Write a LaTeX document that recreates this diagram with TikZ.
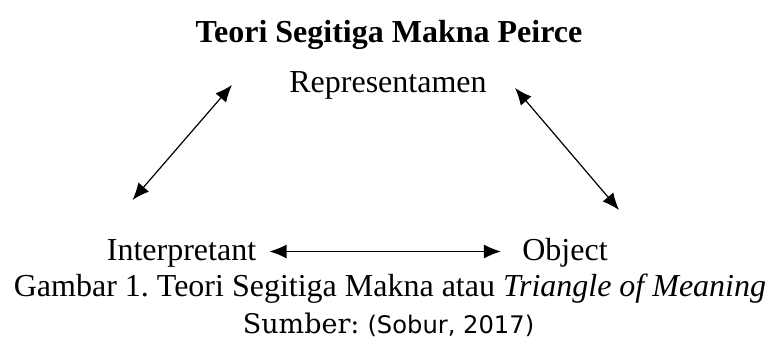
\documentclass[tikz,border=0pt]{standalone}
\usepackage{fontspec}
\setmainfont{Liberation Serif}
\newfontfamily\srcfont{DejaVu Sans}
\newfontfamily\srclabelfont{DejaVu Serif}
\usepackage{tikz}
\usetikzlibrary{arrows.meta,positioning}
\frenchspacing
\tikzstyle{dblarrow} = [line width=0.6pt,{Latex[length=8.5pt,width=7pt]}-{Latex[length=8.5pt,width=7pt]}]
\tikzstyle{label} = [inner sep=0pt, anchor=base, font=\fontsize{16}{19}\selectfont]

\begin{document}
\begin{tikzpicture}[x=0.5pt,y=-0.5pt]
\useasboundingbox (0,0) rectangle (769,340);
% Title and corners
\node[label, font=\fontsize{16}{19}\selectfont\bfseries] (title) at (389,43) {Teori Segitiga Makna Peirce};
\node[label] (repr) at (388,93) {Representamen};
\node[label] (interp) at (181.5,261) {Interpretant};
\node[label] (obj) at (565,261) {Object};

% Caption
\node[label] (cap) at (390,297) {Gambar 1. Teori Segitiga Makna atau \textit{Triangle of Meaning}};
\node[label] (src) at (388.5,334) {{\srclabelfont\fontsize{13.5}{16}\selectfont Sumber:} {\srcfont\fontsize{12.1}{14}\selectfont(Sobur, 2017)}};

% Arrows
\draw[dblarrow] ([shift={(-49,-61)}]interp.base) -- ([shift={(-57,-8)}]repr.base west);
\draw[dblarrow] ([shift={(28,-5)}]repr.base east) -- ([shift={(11,-51)}]obj.base east);
\draw[dblarrow] ([shift={(13,-9.5)}]interp.base east) -- ([shift={(-21,-9.5)}]obj.base west);
\end{tikzpicture}
\end{document}
